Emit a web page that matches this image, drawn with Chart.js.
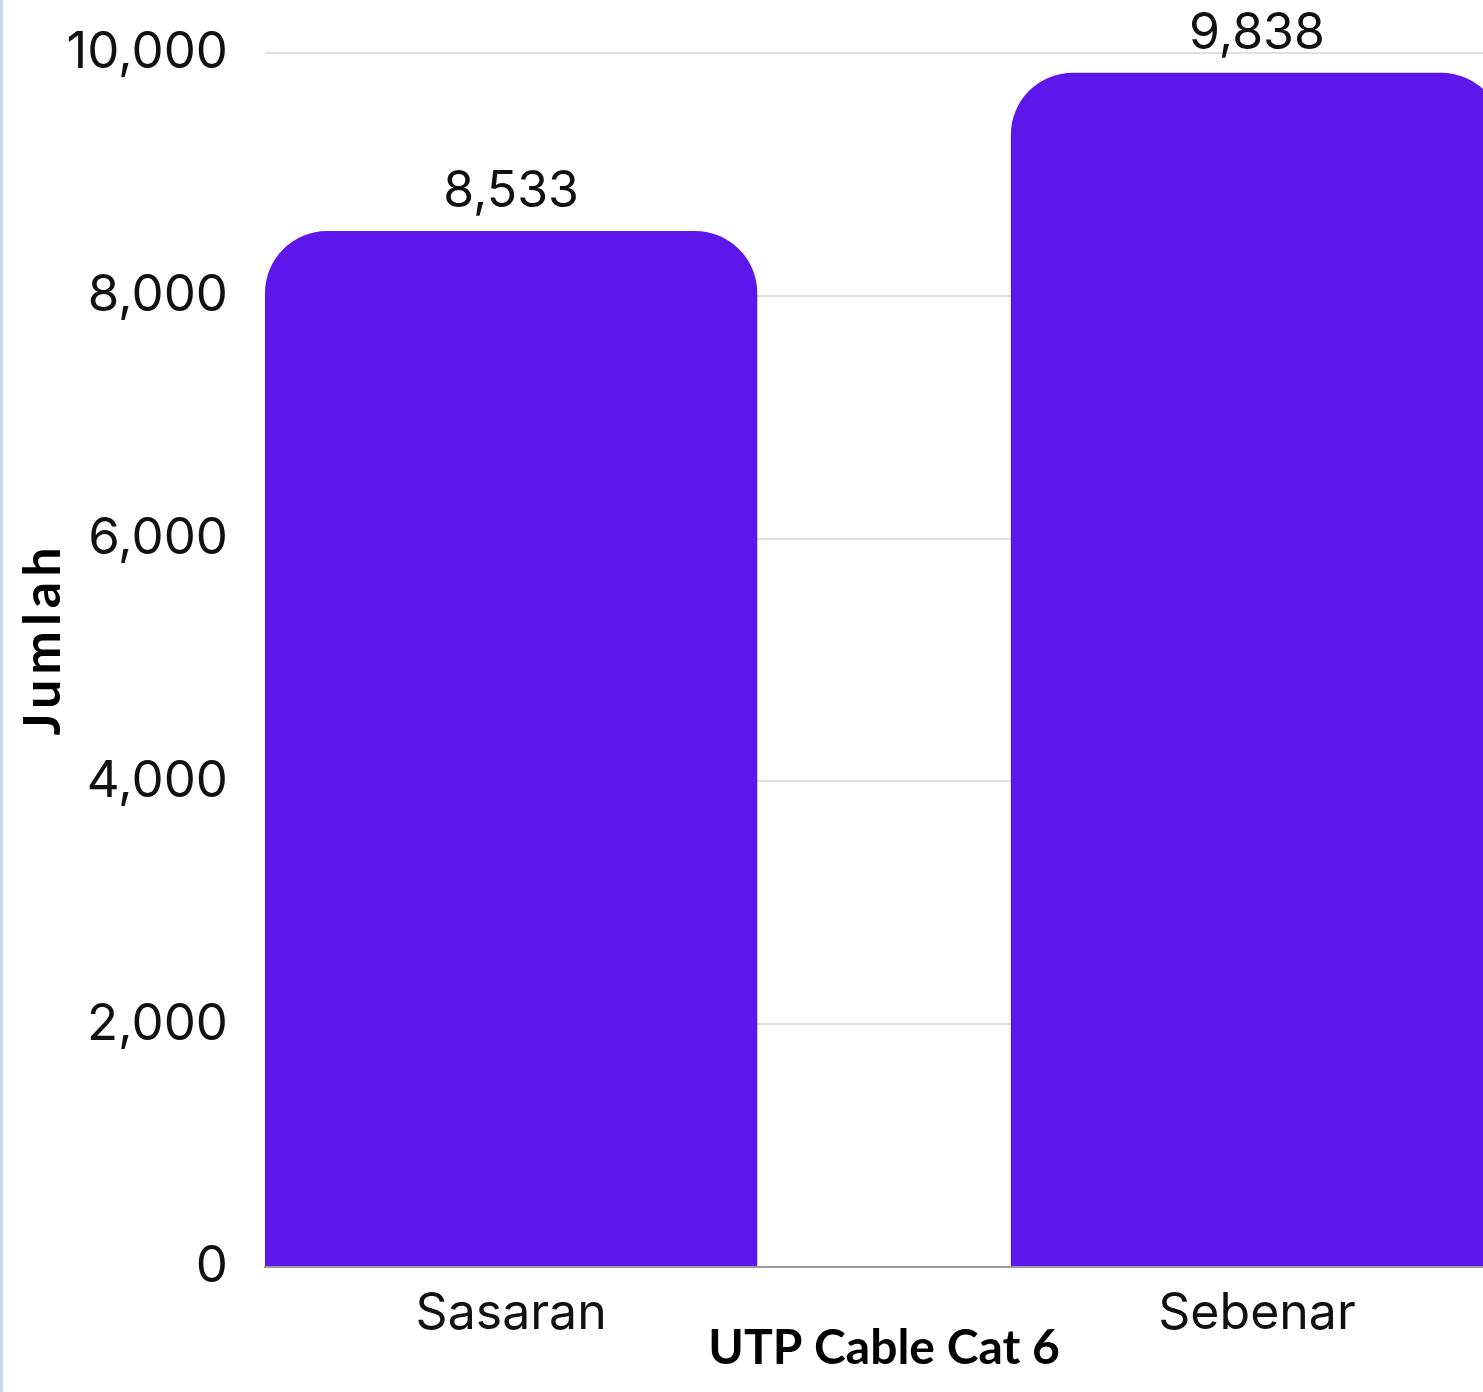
<!DOCTYPE html>
<html>
<head>
<meta charset="utf-8">
<script src="https://cdn.jsdelivr.net/npm/chart.js@4/dist/chart.umd.min.js"></script>
<style>
  html, body { margin: 0; padding: 0; background: #fff; overflow: hidden; }
  #wrap { position: relative; width: 1483px; height: 1392px; }
  #edge { position: absolute; left: 0; top: 0; width: 3px; height: 100%; background: #c6d9f0; }
</style>
</head>
<body>
<div id="wrap">
  <canvas id="chart"></canvas>
  <div id="edge"></div>
</div>
<script>
const categories = ["Sasaran", "Sebenar"];
const positions = [0, 1];
const values = [8533, 9838];
const yTicks = [0, 2000, 4000, 6000, 8000, 10000];
const xTitle = "UTP Cable Cat 6";
const yTitle = "Jumlah";

const numberFormat = new Intl.NumberFormat("en-US");

// nudge axis titles (and space out the y one) like the original
const titleTweaks = {
  id: "titleTweaks",
  beforeDraw(chart) {
    const tweaks = { x: { dx: 10, dy: 0, spacing: "0px" }, y: { dx: 0, dy: -21, spacing: "5px" } };
    Object.entries(tweaks).forEach(([id, t]) => {
      const scale = chart.scales[id];
      if (scale._tweaked) return;
      const orig = scale.drawTitle.bind(scale);
      scale.drawTitle = function () {
        this.ctx.save();
        this.ctx.letterSpacing = t.spacing;
        this.ctx.translate(t.dx, t.dy);
        orig();
        this.ctx.restore();
      };
      scale._tweaked = true;
    });
  },
};

const barLabels = {
  id: "barLabels",
  afterDatasetsDraw(chart) {
    const { ctx } = chart;
    const meta = chart.getDatasetMeta(0);
    ctx.save();
    ctx.font = "50px Inter";
    ctx.fillStyle = "#111";
    ctx.textAlign = "center";
    ctx.textBaseline = "alphabetic";
    meta.data.forEach((bar, i) => {
      ctx.fillText(numberFormat.format(values[i]), bar.x, bar.y - 24);
    });
    ctx.restore();
  },
};

new Chart(document.getElementById("chart"), {
  type: "bar",
  data: {
    datasets: [{
      data: positions.map((x, i) => ({ x, y: values[i] })),
      backgroundColor: "#5e17eb",
      borderRadius: 62,
      borderSkipped: "start",
      categoryPercentage: 1,
      barPercentage: 0.66,
    }],
  },
  options: {
    responsive: true,
    maintainAspectRatio: false,
    animation: false,
    layout: { padding: { top: 53, right: 0, left: 0, bottom: 0 } },
    plugins: { legend: { display: false }, tooltip: { enabled: false } },
    scales: {
      x: {
        type: "linear",
        offset: false,
        min: -0.33,
        max: 1.303,
        afterBuildTicks: (scale) => { scale.ticks = positions.map((v) => ({ value: v })); },
        afterFit: (scale) => { scale.height = 125; },
        ticks: {
          callback: (v) => categories[positions.indexOf(v)] ?? "",
          font: { family: "Inter", size: 50 },
          color: "#111",
          padding: 9,
          maxRotation: 0,
          autoSkip: false,
        },
        grid: { display: false },
        border: { display: true, color: "#9a9a9a", width: 2 },
        title: {
          display: true,
          text: xTitle,
          font: { family: "Lato", weight: "bold", size: 48 },
          color: "#000",
          padding: { top: 0, bottom: 15 },
        },
      },
      y: {
        min: 0,
        max: 10000,
        afterBuildTicks: (scale) => { scale.ticks = yTicks.map((v) => ({ value: v })); },
        afterFit: (scale) => {
          scale.width = 265;
          scale.paddingTop = 0;
          scale.paddingBottom = 0;
        },
        ticks: {
          callback: (v) => numberFormat.format(v),
          font: { family: "Inter", size: 51 },
          color: "#111",
          padding: 37,
        },
        grid: { color: "#e0e0e0", lineWidth: 2, drawTicks: false },
        border: { display: false },
        title: {
          display: true,
          text: yTitle,
          font: { family: "Lato", weight: "bold", size: 52 },
          color: "#000",
          padding: { top: 12, bottom: 0 },
        },
      },
    },
  },
  plugins: [titleTweaks, barLabels],
});
</script>
</body>
</html>
